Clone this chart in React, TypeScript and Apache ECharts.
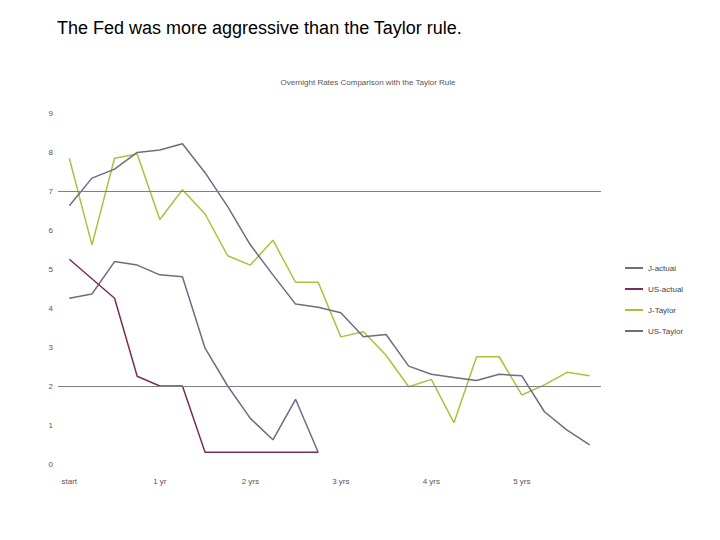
import React, { useEffect, useRef } from "react";
import * as echarts from "echarts";

const xLabels = ["start", "1 yr", "2 yrs", "3 yrs", "4 yrs", "5 yrs"];
const quarterCount = 24;
const categories: string[] = Array.from({ length: quarterCount }, (_, i) =>
  i % 4 === 0 ? xLabels[i / 4] : `q${i}`
);

const jActual = [4.25, 4.36, 5.19, 5.1, 4.85, 4.8, 2.97, 2.0, 1.17, 0.62, 1.66, 0.3];
const usActual = [5.25, 4.75, 4.25, 2.25, 2.0, 2.0, 0.3, 0.3, 0.3, 0.3, 0.3, 0.3];
const jTaylor = [7.84, 5.62, 7.84, 7.95, 6.27, 7.03, 6.41, 5.34, 5.1, 5.74, 4.66, 4.66, 3.26, 3.39, 2.79, 1.98, 2.17, 1.06, 2.75, 2.75, 1.77, 2.03, 2.35, 2.26];
const usTaylor = [6.62, 7.33, 7.56, 7.99, 8.05, 8.21, 7.47, 6.6, 5.62, 4.85, 4.1, 4.02, 3.88, 3.26, 3.32, 2.51, 2.3, 2.22, 2.14, 2.3, 2.26, 1.34, 0.87, 0.49];
const refLines = [7, 2];

const GRAY = "#6c6c84";
const PURPLE = "#7a2d5c";
const GREEN = "#a8c23c";

export default function App() {
  const ref = useRef<HTMLDivElement>(null);
  useEffect(() => {
    if (!ref.current) return;
    const chart = echarts.init(ref.current, undefined, { renderer: "svg" });
    const font = "Liberation Sans, Arial, sans-serif";
    chart.setOption({
      animation: false,
      backgroundColor: "#ffffff",
      textStyle: { fontFamily: font },
      title: {
        text: "Overnight Rates Comparison with the Taylor Rule",
        left: 363,
        top: 73,
        textAlign: "center",
        textStyle: { fontSize: 8, fontWeight: "normal", color: "#555", fontFamily: font },
      },
      graphic: [
        {
          type: "text",
          left: 57,
          top: 19,
          style: {
            text: "The Fed was more aggressive than the Taylor rule.",
            font: `18px ${font}`,
            fill: "#000",
          },
        },
      ],
      legend: {
        orient: "vertical",
        left: 620,
        top: 259,
        itemGap: 13,
        itemWidth: 18,
        itemHeight: 12,
        icon: "path://M0,5 L18,5 L18,7 L0,7 Z",
        textStyle: { fontSize: 8, color: "#444", fontFamily: font },
        data: ["J-actual", "US-actual", "J-Taylor", "US-Taylor"],
      },
      grid: { left: 58, right: 119, top: 113, bottom: 76, containLabel: false },
      xAxis: {
        type: "category",
        data: categories,
        boundaryGap: true,
        axisLine: { show: false },
        axisTick: { show: false },
        axisLabel: {
          interval: 3,
          margin: 13,
          fontSize: 8,
          color: "#555",
        },
      },
      yAxis: {
        type: "value",
        min: 0,
        max: 9,
        interval: 1,
        axisLine: { show: false },
        axisTick: { show: false },
        splitLine: { show: false },
        axisLabel: { fontSize: 8, color: "#555", margin: 5 },
      },
      series: [
        {
          name: "J-actual",
          type: "line",
          data: jActual,
          symbol: "none",
          lineStyle: { color: GRAY, width: 1.5 },
          itemStyle: { color: GRAY },
          markLine: {
            silent: true,
            symbol: "none",
            label: { show: false },
            lineStyle: { color: "#808080", width: 1, type: "solid" },
            data: refLines.map((v) => ({ yAxis: v })),
          },
        },
        {
          name: "US-actual",
          type: "line",
          data: usActual,
          symbol: "none",
          lineStyle: { color: PURPLE, width: 1.5 },
          itemStyle: { color: PURPLE },
        },
        {
          name: "J-Taylor",
          type: "line",
          data: jTaylor,
          symbol: "none",
          lineStyle: { color: GREEN, width: 1.5 },
          itemStyle: { color: GREEN },
        },
        {
          name: "US-Taylor",
          type: "line",
          data: usTaylor,
          symbol: "none",
          lineStyle: { color: GRAY, width: 1.5 },
          itemStyle: { color: GRAY },
        },
      ],
    });
    return () => chart.dispose();
  }, []);
  return (
    <div
      ref={ref}
      style={{ position: "fixed", left: 0, top: 0, width: 720, height: 540 }}
    />
  );
}
